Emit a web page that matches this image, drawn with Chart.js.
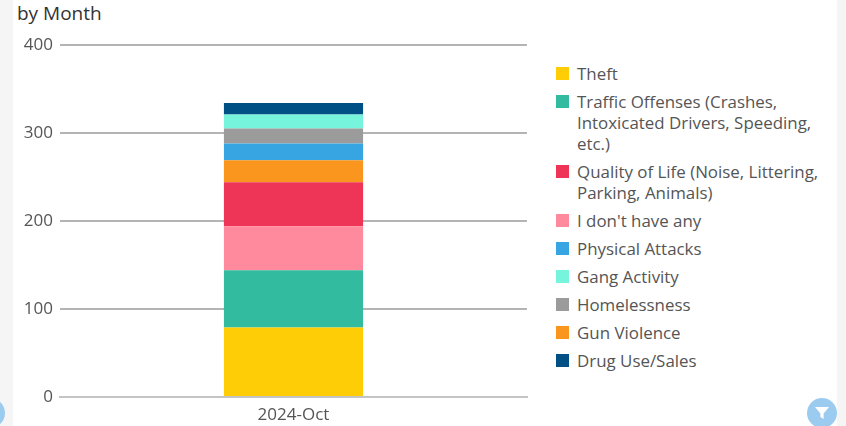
<!DOCTYPE html>
<html>
<head>
<meta charset="utf-8">
<title>by Month</title>
<script src="https://cdn.jsdelivr.net/npm/chart.js@4"></script>
<style>
  html, body { margin: 0; padding: 0; background: #f5f5f5; overflow: hidden; }
  #card { position: absolute; left: 13px; top: 0; width: 824px; height: 426px; background: #fff; }
  #title { position: absolute; left: 17px; top: 0; font: 19px/26px "Open Sans", sans-serif; color: #333; }
  #wrap { position: absolute; left: 0; top: 0; width: 540px; height: 426px; }
  #legend { position: absolute; left: 556px; top: 63px; width: 274px; margin: 0; padding: 0; list-style: none;
            font: 16.9px/21px "Open Sans", sans-serif; color: #555; }
  #legend li { position: relative; padding-left: 21px; margin-bottom: 7px; }
  #legend i { position: absolute; left: 0; top: 4px; width: 13px; height: 13px; }
  .filter { position: absolute; width: 30px; height: 30px; border-radius: 50%; background: #9ccbf0; top: 398px; }
  .filter svg { position: absolute; left: 7px; top: 7px; }
</style>
</head>
<body>
<div id="card"></div>
<div id="title">by Month</div>
<div id="wrap"><canvas id="monthChart"></canvas></div>
<ul id="legend"></ul>
<div class="filter" style="left:-25px"></div>
<div class="filter" style="left:807px">
  <svg width="16" height="16" viewBox="0 0 16 16"><path d="M1 2h14L9.6 8.5V14L6.4 12V8.5z" fill="#fff"/></svg>
</div>
<script>
const categories = ["2024-Oct"];
const seriesNames = [
  "Theft",
  "Traffic Offenses (Crashes, Intoxicated Drivers, Speeding, etc.)",
  "Quality of Life (Noise, Littering, Parking, Animals)",
  "I don't have any",
  "Physical Attacks",
  "Gang Activity",
  "Homelessness",
  "Gun Violence",
  "Drug Use/Sales"
];
// same order as the legend; the stack order differs, see stackOrder
const seriesValues = [79, 65, 50, 50, 19, 16, 17, 25, 13];
const seriesColors = ["#ffcd05", "#33bba0", "#ef3557", "#ff8a9d", "#36a5e2", "#76f5dc", "#9b9b9b", "#fa961e", "#004f85"];
// bottom to top in the bar
const stackOrder = [0, 1, 3, 2, 7, 4, 6, 5, 8];
const yTicks = [0, 100, 200, 300, 400];

const datasets = stackOrder.map(i => ({
  label: seriesNames[i],
  data: [seriesValues[i]],
  backgroundColor: seriesColors[i],
  barPercentage: 0.298,
  categoryPercentage: 1
}));

const chart = new Chart(document.getElementById("monthChart"), {
  type: "bar",
  data: { labels: categories, datasets },
  options: {
    responsive: true,
    maintainAspectRatio: false,
    animation: false,
    layout: { padding: { top: 45, right: 13 } },
    plugins: { legend: { display: false }, tooltip: { enabled: false } },
    scales: {
      x: {
        stacked: true,
        grid: { display: false },
        border: { color: "#c4c4c4", width: 2 },
        ticks: { color: "#555", font: { family: "Open Sans", size: 17 }, padding: 0 },
        afterFit: s => { s.height = 29; }
      },
      y: {
        stacked: true,
        min: 0,
        max: 400,
        afterBuildTicks: s => { s.ticks = yTicks.map(v => ({ value: v })); },
        grid: { color: "#b4b4b4", lineWidth: 2, drawTicks: false },
        border: { display: false },
        ticks: { color: "#555", font: { family: "Open Sans", size: 17 }, padding: 7 },
        afterFit: s => { s.width = 60; }
      }
    }
  }
});

// legend in the wrapped list form, in series order
const legend = document.getElementById("legend");
seriesNames.forEach((name, i) => {
  const li = document.createElement("li");
  const box = document.createElement("i");
  box.style.background = seriesColors[i];
  li.appendChild(box);
  li.appendChild(document.createTextNode(name));
  legend.appendChild(li);
});
</script>
</body>
</html>
